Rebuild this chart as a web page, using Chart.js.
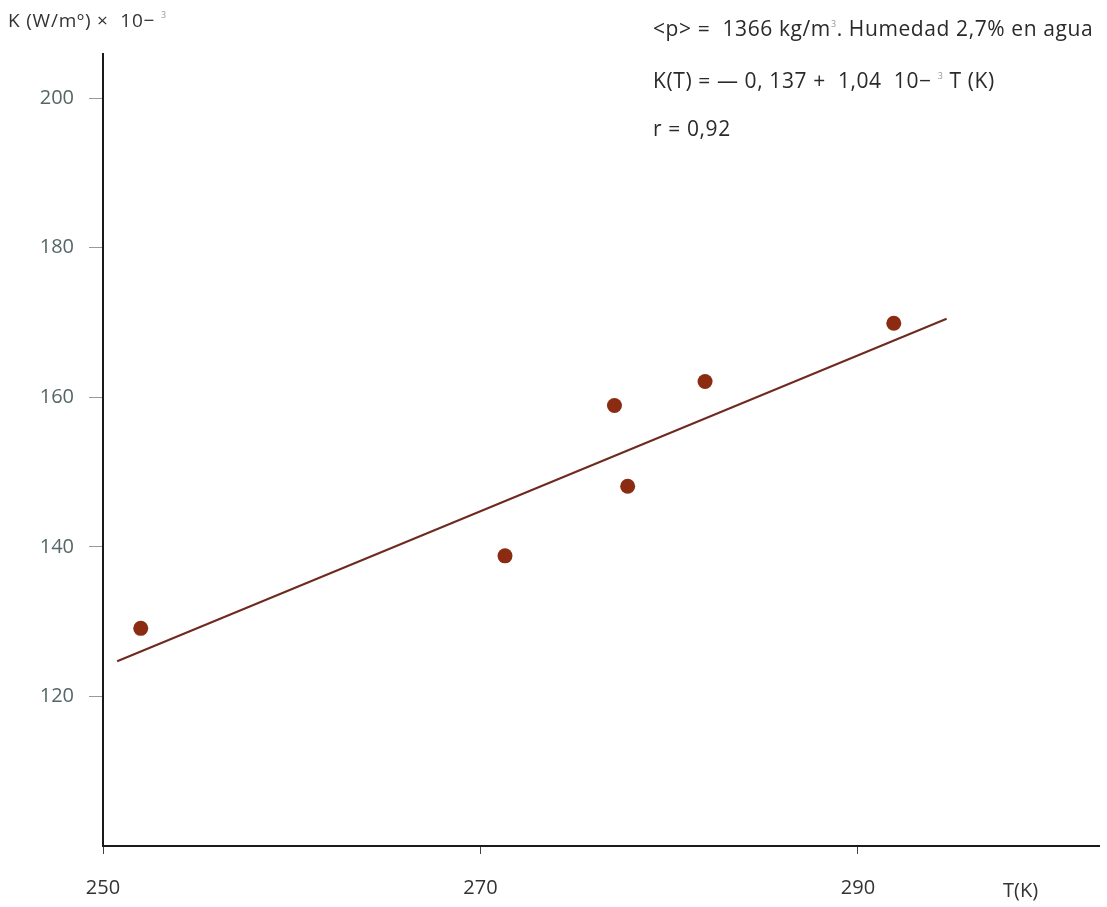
<!DOCTYPE html>
<html>
<head>
<meta charset="utf-8">
<script src="https://cdn.jsdelivr.net/npm/chart.js@4.4.0/dist/chart.umd.min.js"></script>
<style>
  body { margin: 0; background: #fff; }
  #wrap { position: relative; width: 1107px; height: 907px; }
  .txt { position: absolute; font-family: "Open Sans", sans-serif; color: #2a2a2a; white-space: nowrap; }
  .txt sup { font-size: 9px; color: #999; vertical-align: 9px; }
</style>
</head>
<body>
<div id="wrap">
  <canvas id="chart" width="1107" height="907"></canvas>
  <div class="txt" style="left:8px; top:7px; font-size:19px; letter-spacing:0.8px; color:#333;">K (W/mº) × &nbsp;10− <sup>3</sup></div>
  <div class="txt" style="left:653px; top:14px; font-size:21px; letter-spacing:0.6px;">&lt;p&gt; = &nbsp;1366 kg/m<sup>3</sup>. Humedad 2,7% en agua</div>
  <div class="txt" style="left:653px; top:66px; font-size:21px; letter-spacing:0.6px;">K(T) = — 0, 137 + &nbsp;1,04 &nbsp;10− <sup>3</sup> T (K)</div>
  <div class="txt" style="left:653px; top:114px; font-size:21px; letter-spacing:0.6px;">r = 0,92</div>
  <div class="txt" style="left:1003px; top:876px; font-size:20px; color:#333;">T(K)</div>
</div>
<script>
// measured points T (K) vs K (W/mK x 10^-3)
const tempK = [252, 271.3, 277.1, 277.8, 281.9, 291.9];
const condK = [129.1, 138.8, 158.9, 148.1, 162.1, 169.9];

// regression line end points as drawn
const fitT = [250.75, 294.7];
const fitK = [124.7, 170.5];

const xTicks = [250, 270, 290];
const yTicks = [120, 140, 160, 180, 200];

const points = tempK.map((t, i) => ({ x: t, y: condK[i] }));
const fitLine = fitT.map((t, i) => ({ x: t, y: fitK[i] }));

const ctx = document.getElementById("chart").getContext("2d");
new Chart(ctx, {
  type: "scatter",
  data: {
    datasets: [
      {
        type: "line",
        data: fitLine,
        borderColor: "#6e2a1e",
        borderWidth: 2,
        pointRadius: 0,
        fill: false,
      },
      {
        data: points,
        backgroundColor: "#8b2b12",
        borderColor: "#8b2b12",
        borderWidth: 0,
        pointRadius: 7.5,
      },
    ],
  },
  options: {
    responsive: false,
    animation: false,
    layout: { padding: { top: 54, right: 5, left: 0, bottom: 0 } },
    plugins: { legend: { display: false }, tooltip: { enabled: false } },
    scales: {
      x: {
        type: "linear",
        min: 250,
        max: 302.8,
        afterBuildTicks: (s) => { s.ticks = xTicks.map((v) => ({ value: v })); },
        afterFit: (s) => { s.height = 61; },
        grid: { drawOnChartArea: false, tickLength: 8, color: "#444", lineWidth: 1 },
        border: { color: "#1a1a1a", width: 2 },
        ticks: {
          padding: 22,
          maxRotation: 0,
          color: "#333",
          font: { family: "Open Sans", size: 20 },
        },
      },
      y: {
        min: 100,
        max: 205.9,
        afterBuildTicks: (s) => { s.ticks = yTicks.map((v) => ({ value: v })); },
        afterFit: (s) => { s.width = 103; },
        grid: { drawOnChartArea: false, tickLength: 14, color: "#999", lineWidth: 1 },
        border: { color: "#1a1a1a", width: 2 },
        ticks: {
          padding: 15,
          color: "#566",
          font: { family: "Open Sans", size: 20 },
        },
      },
    },
  },
});
</script>
</body>
</html>
